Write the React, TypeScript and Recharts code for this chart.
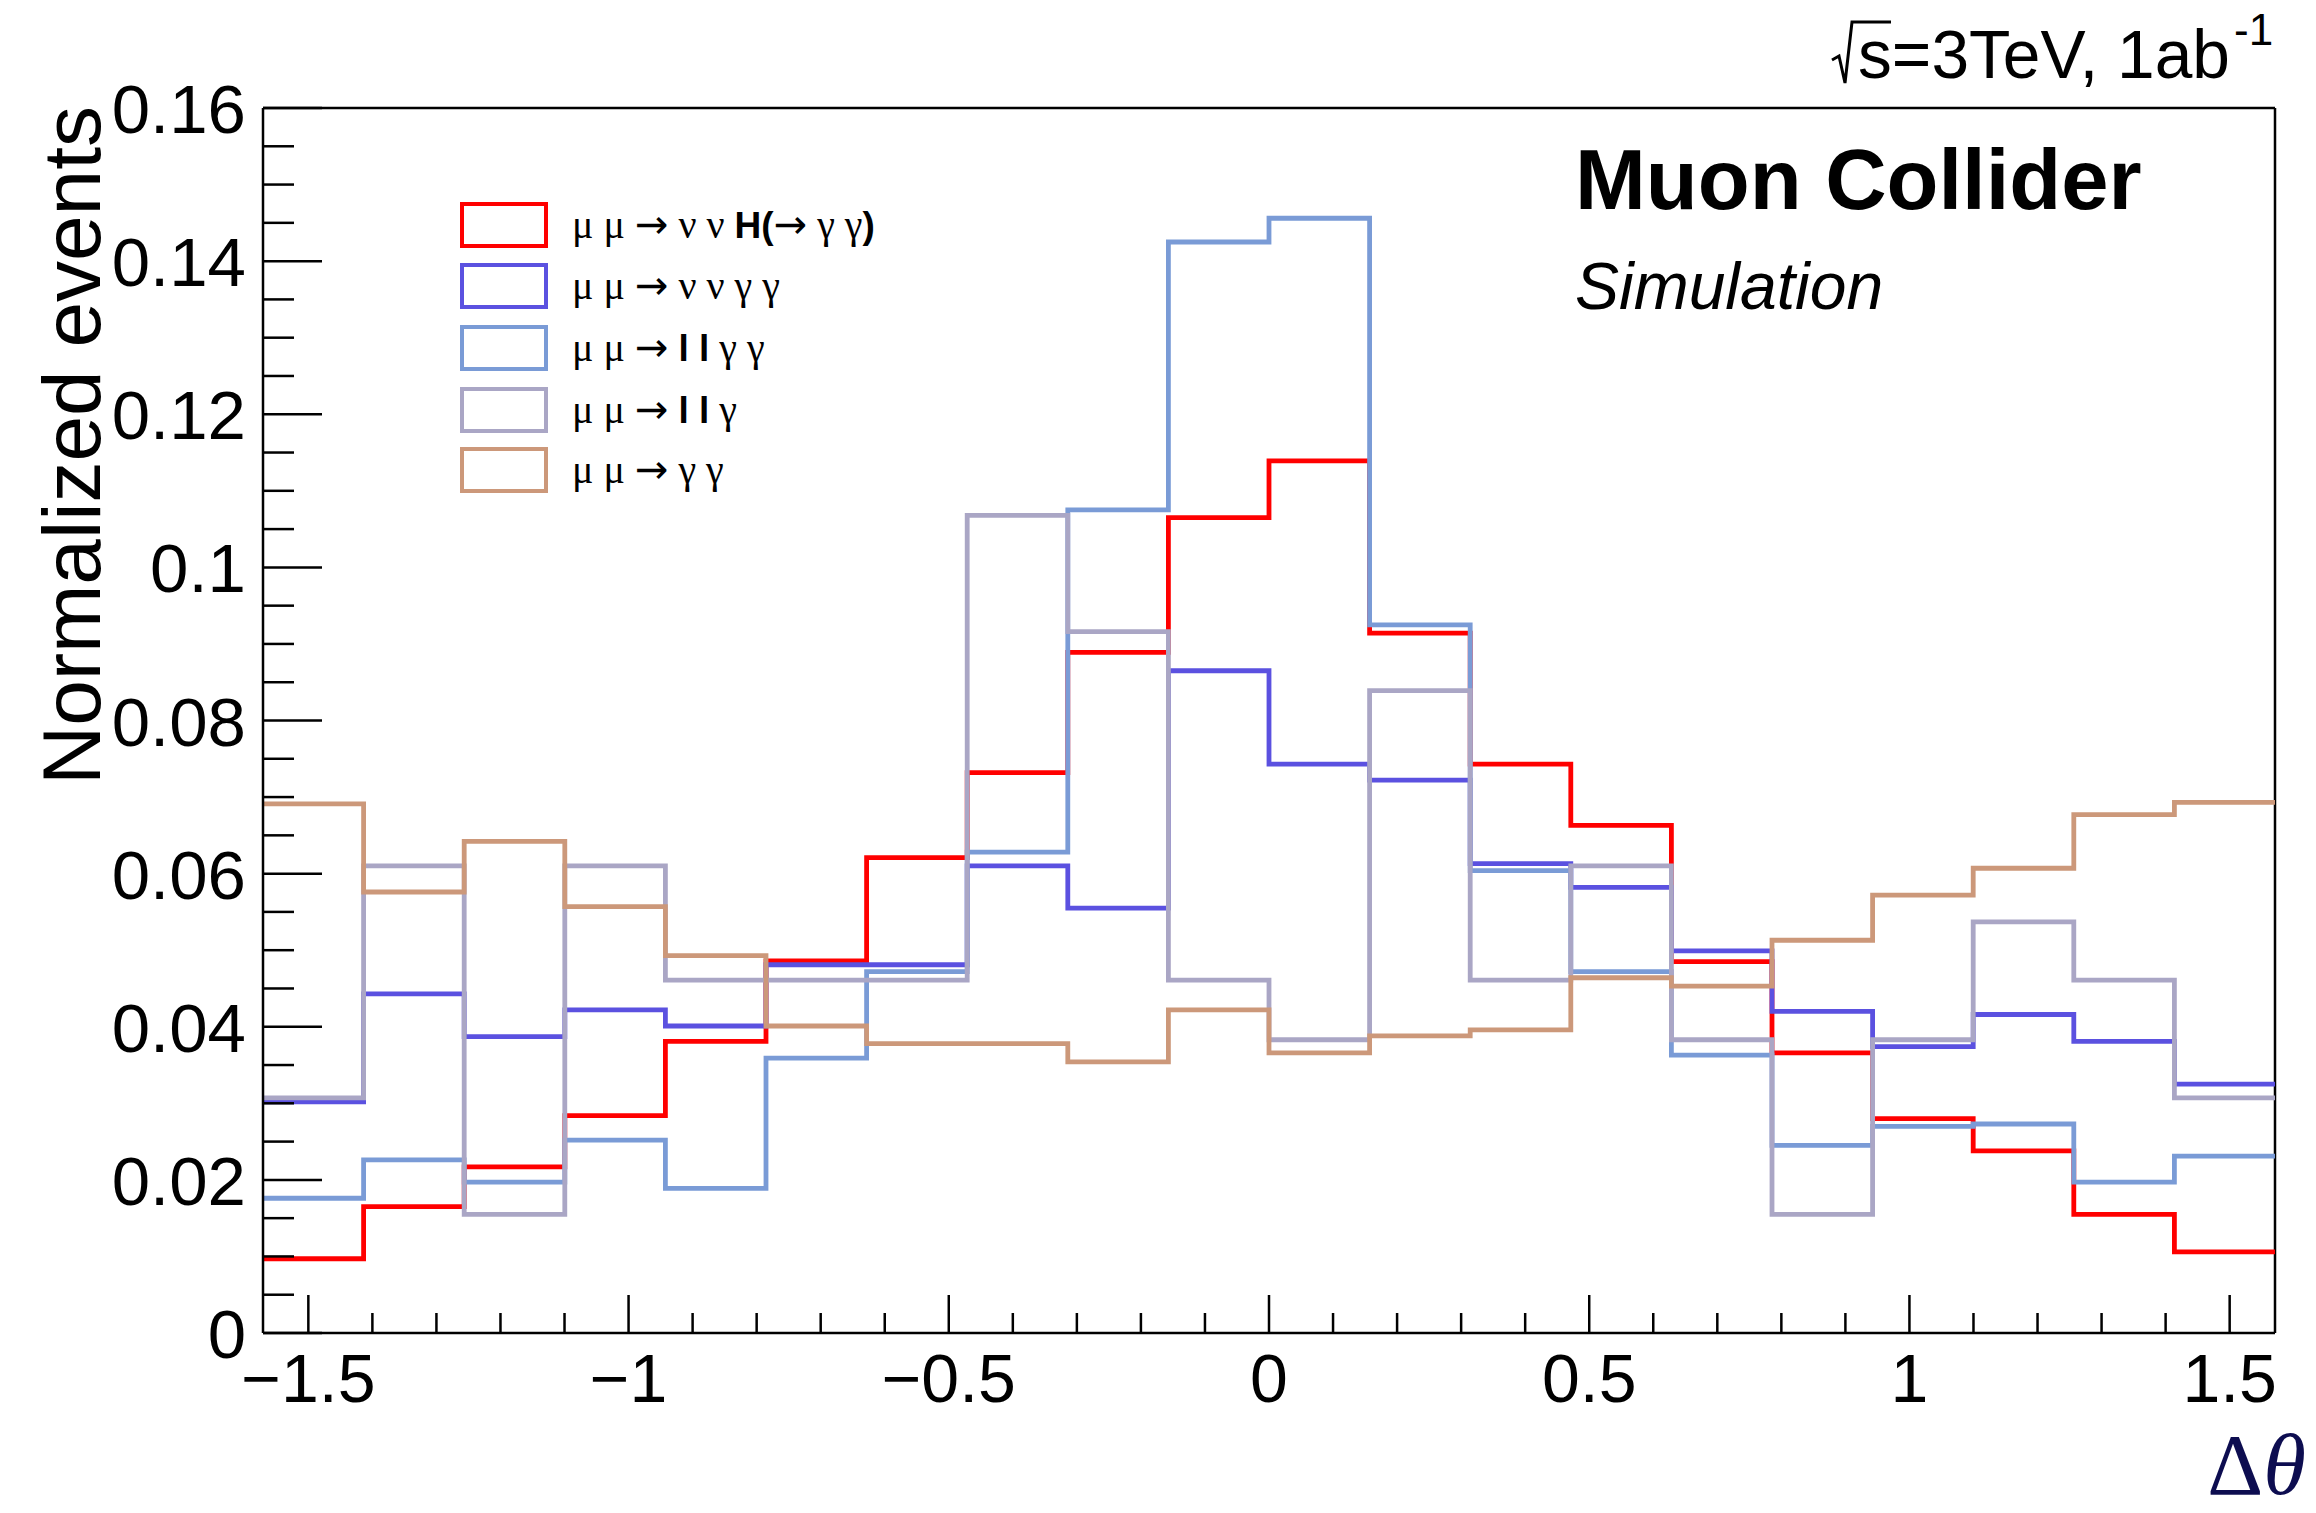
import { LineChart, Line, XAxis, YAxis, ReferenceLine, Legend } from 'recharts'

const SANS = '"Liberation Sans", Arial, Helvetica, sans-serif'
const SERIF = '"Liberation Serif", "Times New Roman", serif'
const ARROW = '"DejaVu Sans", sans-serif'

// 20 equal bins over [-pi/2, pi/2]
const BIN_COUNT = 20
const BIN_EDGES = Array.from(
  { length: BIN_COUNT + 1 },
  (_, i) => -Math.PI / 2 + (i * Math.PI) / BIN_COUNT
)

// normalized bin contents, left to right
const HGG = [
  0.0097, 0.0165, 0.0217, 0.0284, 0.0381, 0.0486, 0.0621, 0.0732, 0.0889, 0.1065,
  0.1139, 0.0914, 0.0743, 0.0663, 0.0485, 0.0366, 0.028, 0.0238, 0.0155, 0.0106,
]
const NNGG = [
  0.0302, 0.0443, 0.0387, 0.0422, 0.0401, 0.0481, 0.0481, 0.061, 0.0555, 0.0865,
  0.0743, 0.0722, 0.0613, 0.0582, 0.0499, 0.042, 0.0374, 0.0416, 0.0381, 0.0325,
]
const LLGG = [
  0.0176, 0.0226, 0.0197, 0.0252, 0.0189, 0.0359, 0.0472, 0.0628, 0.1075, 0.1425,
  0.1456, 0.0925, 0.0604, 0.0472, 0.0363, 0.0245, 0.027, 0.0273, 0.0197, 0.0231,
]
const LLG = [
  0.0307, 0.061, 0.0155, 0.061, 0.0461, 0.0461, 0.0461, 0.1068, 0.0916, 0.0461,
  0.0383, 0.0839, 0.0461, 0.061, 0.0383, 0.0155, 0.0383, 0.0537, 0.0461, 0.0307,
]
const GG = [
  0.0691, 0.0576, 0.0642, 0.0557, 0.0493, 0.0401, 0.0378, 0.0378, 0.0354, 0.0422,
  0.0366, 0.0388, 0.0396, 0.0464, 0.0453, 0.0513, 0.0572, 0.0607, 0.0677, 0.0693,
]

// legend text pieces: g = symbol (serif), a = arrow, b = bold sans
type Piece = [string, 'g' | 'a' | 'b']
const SERIES: { key: string; values: number[]; color: string; label: Piece[] }[] = [
  {
    key: 'hgg',
    values: HGG,
    color: '#ff0000',
    label: [['μ μ ', 'g'], ['→', 'a'], [' ν ν ', 'g'], ['H(', 'b'], ['→', 'a'], [' γ γ', 'g'], [')', 'b']],
  },
  {
    key: 'nngg',
    values: NNGG,
    color: '#5b51e0',
    label: [['μ μ ', 'g'], ['→', 'a'], [' ν ν γ γ', 'g']],
  },
  {
    key: 'llgg',
    values: LLGG,
    color: '#7a9bd6',
    label: [['μ μ ', 'g'], ['→', 'a'], [' ', 'g'], ['l l', 'b'], [' γ γ', 'g']],
  },
  {
    key: 'llg',
    values: LLG,
    color: '#aaa6c5',
    label: [['μ μ ', 'g'], ['→', 'a'], [' ', 'g'], ['l l', 'b'], [' γ', 'g']],
  },
  {
    key: 'gg',
    values: GG,
    color: '#cc987a',
    label: [['μ μ ', 'g'], ['→', 'a'], [' γ γ', 'g']],
  },
]

const X_TICKS = Array.from({ length: 31 }, (_, i) => (i - 15) / 10)
const Y_TICKS = Array.from({ length: 33 }, (_, i) => (i * 5) / 1000)

// one row per bin edge; the last edge repeats the last bin so the step closes
const rows = BIN_EDGES.map((x, i) => {
  const row: Record<string, number> = { x }
  SERIES.forEach((s) => {
    row[s.key] = s.values[Math.min(i, BIN_COUNT - 1)]
  })
  return row
})

const fmt = (v: number) => String(Number(v.toFixed(3))).replace('-', '\u2212')

const XTick = (props: any) => {
  const { x, y, payload } = props
  const v = payload.value as number
  const major = Math.abs(v * 2 - Math.round(v * 2)) < 1e-6
  return (
    <g>
      <line x1={x} x2={x} y1={y} y2={y - (major ? 38 : 20)} stroke='#000' strokeWidth={2.5} />
      {major && (
        <text x={x} y={y + 69} textAnchor='middle' fontFamily={SANS} fontSize={68} fill='#000'>
          {fmt(v)}
        </text>
      )}
    </g>
  )
}

const YTick = (props: any) => {
  const { x, y, payload } = props
  const v = payload.value as number
  const major = Math.round(v * 1000) % 20 === 0
  return (
    <g>
      <line x1={x} x2={x + (major ? 59 : 31)} y1={y} y2={y} stroke='#000' strokeWidth={2.5} />
      {major && (
        <text x={x - 17} y={y + 25} textAnchor='end' fontFamily={SANS} fontSize={69} fill='#000'>
          {fmt(v)}
        </text>
      )}
    </g>
  )
}

const LEGEND_ROW_Y = [35, 96, 158, 220, 280]

const pieceFont = (kind: string) =>
  kind === 'g'
    ? { fontFamily: SERIF, fontSize: 40, fontWeight: 'normal' }
    : kind === 'a'
      ? { fontFamily: ARROW, fontSize: 40, fontWeight: 'normal' }
      : { fontFamily: SANS, fontSize: 37, fontWeight: 'bold' }

const renderLegend = () => (
  <svg width={460} height={310}>
    {SERIES.map((s, i) => {
      const cy = LEGEND_ROW_Y[i]
      return (
        <g key={s.key}>
          <rect x={22} y={cy - 21} width={84} height={42} fill='none' stroke={s.color} strokeWidth={4} />
          <text x={132} y={cy + 13} fill='#000' style={{ whiteSpace: 'pre' }}>
            {s.label.map(([t, kind], j) => (
              <tspan key={j} {...pieceFont(kind)}>
                {t}
              </tspan>
            ))}
          </text>
        </g>
      )
    })}
  </svg>
)

export default function App() {
  return (
    <div style={{ position: 'absolute', left: 0, top: 0, width: 2316, height: 1513, background: '#fff' }}>
      <LineChart
        width={2316}
        height={1513}
        data={rows}
        margin={{ top: 108, right: 41, left: 0, bottom: 0 }}
      >
        <XAxis
          dataKey='x'
          type='number'
          domain={[-Math.PI / 2, Math.PI / 2]}
          allowDataOverflow
          ticks={X_TICKS}
          interval={0}
          tickSize={0}
          tickMargin={0}
          tick={<XTick />}
          axisLine={{ stroke: '#000', strokeWidth: 2.5 }}
          height={180}
        />
        <YAxis
          type='number'
          domain={[0, 0.16]}
          allowDataOverflow
          ticks={Y_TICKS}
          interval={0}
          tickSize={0}
          tickMargin={0}
          tick={<YTick />}
          axisLine={{ stroke: '#000', strokeWidth: 2.5 }}
          width={263}
        />
        <ReferenceLine y={0.16} stroke='#000' strokeWidth={2.5} ifOverflow='visible' />
        <ReferenceLine x={Math.PI / 2} stroke='#000' strokeWidth={2.5} ifOverflow='visible' />
        {SERIES.map((s) => (
          <Line
            key={s.key}
            type='stepAfter'
            dataKey={s.key}
            stroke={s.color}
            strokeWidth={4.8}
            strokeLinejoin='miter'
            dot={false}
            activeDot={false}
            isAnimationActive={false}
          />
        ))}
        <Legend
          layout='horizontal'
          verticalAlign='middle'
          align='center'
          content={renderLegend}
          wrapperStyle={{ left: 440, top: 190, width: 460, height: 310 }}
        />
      </LineChart>
      <svg
        width={2316}
        height={1513}
        style={{ position: 'absolute', left: 0, top: 0, pointerEvents: 'none' }}
      >
        <text
          transform='translate(100,106) rotate(-90)'
          textAnchor='end'
          fontFamily={SANS}
          fontSize={82}
          fill='#000'
        >
          Normalized events
        </text>
        <text x={2306} y={1494} textAnchor='end' fontFamily={SERIF} fontSize={87} fill='#0d0d50'>
          Δ<tspan fontStyle='italic'>θ</tspan>
        </text>
        <path d='M1832,60 L1839,56 L1845,83 L1852,22 L1891,22' fill='none' stroke='#000' strokeWidth={3} />
        <text x={1858} y={78} fontFamily={SANS} fontSize={68} fill='#000' textLength={372} lengthAdjust='spacingAndGlyphs'>
          s=3TeV, 1ab
        </text>
        <text x={2234} y={45} fontFamily={SANS} fontSize={44} fill='#000'>
          -1
        </text>
        <text x={1575} y={209} fontFamily={SANS} fontWeight='bold' fontSize={85} fill='#000'>
          Muon Collider
        </text>
        <text x={1575} y={309} fontFamily={SANS} fontStyle='italic' fontSize={66} fill='#000'>
          Simulation
        </text>
      </svg>
    </div>
  )
}
